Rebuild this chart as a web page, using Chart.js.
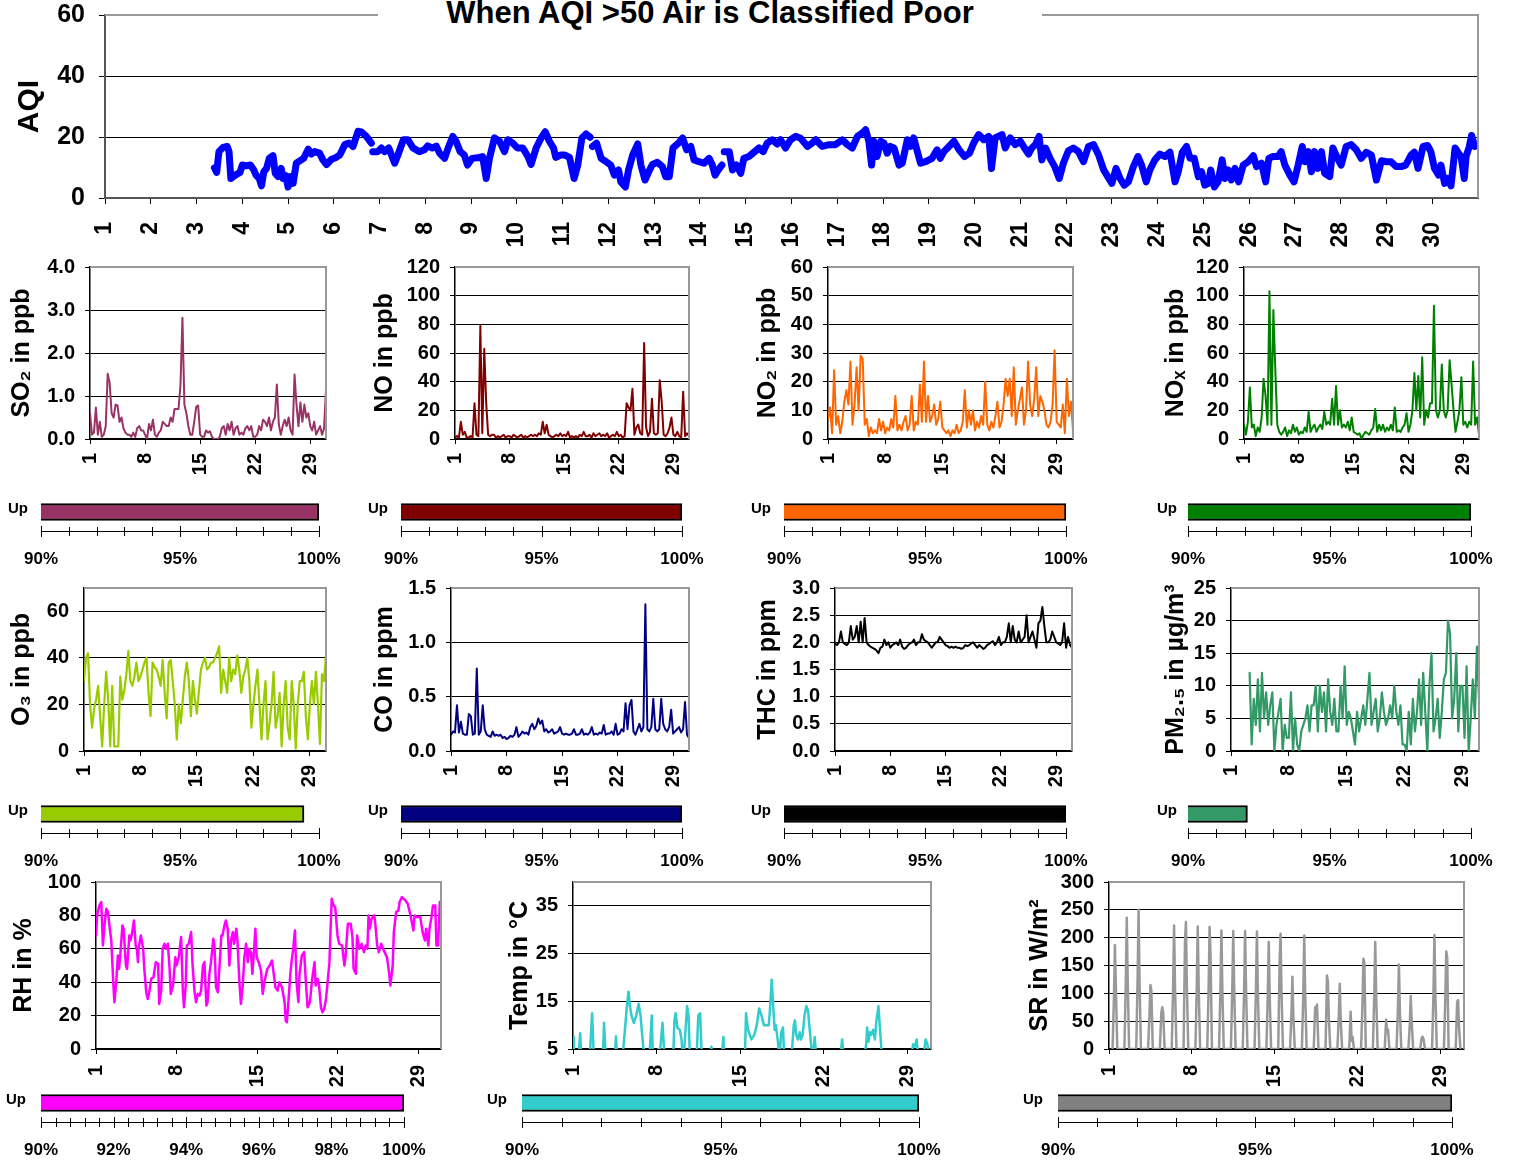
<!DOCTYPE html>
<html>
<head>
<meta charset="utf-8">
<script src="https://cdn.jsdelivr.net/npm/chart.js@4.4.0/dist/chart.umd.min.js"></script>
<style>
  body { margin: 0; background: #fff; width: 1515px; height: 1160px; position: relative; overflow: hidden; }
  canvas { position: absolute; }
  #title { position: absolute; left: 378px; width: 664px; top: -3px; text-align: center;
           font: bold 31px "Liberation Sans", Arial, sans-serif; line-height: 32px; color: #000; }
</style>
</head>
<body>
<div id="title">When AQI &gt;50 Air is Classified Poor</div>
<script>
// ---- tick labels ----
const dayTicks = [1, 8, 15, 22, 29];
const aqiDayTicks = [1,2,3,4,5,6,7,8,9,10,11,12,13,14,15,16,17,18,19,20,21,22,23,24,25,26,27,28,29,30];
const pctLabels = [90, 95, 100];
const rhPctLabels = [90, 92, 94, 96, 98, 100];

// ---- AQI readings: [day, AQI] ----
const aqiReadings = [
  [3.39,9.9],[3.44,8.4],[3.49,15.2],[3.58,16.6],[3.67,16.9],[3.71,15.2],[3.75,6.4],[3.8,7.0],[3.87,7.7],[3.95,8.4],
  [4.0,10.8],[4.09,10.6],[4.18,10.8],[4.25,9.2],[4.3,7.5],[4.37,6.4],[4.42,4.0],[4.47,8.6],[4.53,9.7],[4.59,13.0],
  [4.67,13.9],[4.72,8.1],[4.78,7.0],[4.85,9.7],[4.89,6.4],[4.95,7.3],[5.0,3.6],[5.05,7.0],[5.11,4.8],[5.18,11.4],
  [5.23,11.9],[5.34,13.0],[5.44,16.0],[5.51,14.4],[5.58,15.2],[5.69,14.7],[5.76,12.5],[5.84,11.0],[5.95,12.7],[6.05,13.3],
  [6.13,14.1],[6.24,17.5],[6.33,18.0],[6.42,16.9],[6.53,21.9],[6.6,21.7],[6.71,20.2],[6.82,18.0],[6.835,null],[6.85,15.2],
  [6.96,15.2],[7.04,16.4],[7.11,15.2],[7.2,16.4],[7.33,11.4],[7.4,14.1],[7.52,19.1],[7.62,19.1],[7.73,16.4],[7.87,15.2],
  [7.98,15.8],[8.05,17.1],[8.15,16.4],[8.24,17.0],[8.31,14.7],[8.42,13.0],[8.51,16.9],[8.6,20.2],[8.67,18.6],[8.76,15.2],
  [8.85,14.1],[8.92,10.8],[9.02,13.0],[9.18,13.3],[9.25,13.6],[9.33,6.4],[9.4,13.0],[9.51,19.7],[9.62,18.6],[9.73,15.2],
  [9.8,19.1],[9.91,18.0],[10.01,16.4],[10.13,16.4],[10.24,13.6],[10.31,11.0],[10.42,16.4],[10.53,19.7],[10.62,21.7],[10.71,18.6],
  [10.8,16.4],[10.85,13.3],[10.96,14.1],[11.04,14.1],[11.15,13.3],[11.25,6.4],[11.33,10.8],[11.42,19.7],[11.51,21.0],[11.6,19.9],
  [11.62,null],[11.65,16.9],[11.74,18.0],[11.84,13.0],[11.95,11.9],[12.05,10.8],[12.13,7.5],[12.22,9.2],[12.27,5.3],[12.37,3.6],
  [12.44,9.2],[12.53,14.1],[12.64,17.7],[12.71,10.8],[12.8,5.9],[12.88,8.6],[12.96,11.0],[13.07,11.7],[13.18,10.3],[13.25,7.0],
  [13.33,7.0],[13.41,16.4],[13.53,18.0],[13.62,19.7],[13.71,15.8],[13.8,16.9],[13.87,12.5],[13.98,11.9],[14.09,11.4],[14.2,13.0],
  [14.27,10.8],[14.33,7.5],[14.4,9.2],[14.48,10.8],[14.5,null],[14.53,15.2],[14.64,15.2],[14.71,9.2],[14.8,10.8],[14.89,8.1],
  [14.96,13.0],[15.07,13.6],[15.18,15.0],[15.29,16.4],[15.38,15.2],[15.47,18.0],[15.58,19.1],[15.69,17.7],[15.76,19.1],[15.87,16.4],
  [15.98,19.1],[16.09,20.2],[16.2,19.6],[16.35,16.9],[16.45,18.0],[16.53,19.1],[16.67,16.9],[16.82,17.5],[16.96,17.5],[17.11,19.1],
  [17.22,17.5],[17.33,16.4],[17.44,20.2],[17.55,21.3],[17.62,22.4],[17.69,18.6],[17.75,10.8],[17.8,18.6],[17.87,13.6],[17.95,18.6],
  [18.02,18.0],[18.09,14.7],[18.16,16.9],[18.24,16.4],[18.35,10.8],[18.42,11.4],[18.53,19.1],[18.6,16.9],[18.67,19.7],[18.75,15.2],
  [18.82,11.4],[18.93,11.9],[19.07,13.0],[19.18,15.8],[19.25,13.0],[19.33,15.2],[19.44,16.9],[19.55,18.6],[19.66,15.8],[19.78,13.6],
  [19.89,14.7],[19.98,18.0],[20.09,20.8],[20.2,19.1],[20.31,20.2],[20.37,9.7],[20.45,19.7],[20.6,20.8],[20.67,16.4],[20.78,19.7],
  [20.89,17.5],[21.0,18.6],[21.07,16.9],[21.18,14.4],[21.25,16.4],[21.33,17.5],[21.41,20.2],[21.47,12.5],[21.55,16.4],[21.65,13.0],
  [21.75,10.3],[21.85,6.4],[21.94,11.4],[22.05,15.5],[22.16,16.4],[22.27,15.2],[22.38,11.9],[22.49,16.9],[22.6,17.5],[22.71,14.1],
  [22.82,9.2],[22.91,7.0],[23.0,4.8],[23.09,9.7],[23.18,6.4],[23.27,4.2],[23.36,5.3],[23.47,10.3],[23.57,13.6],[23.65,10.8],
  [23.75,5.3],[23.83,9.2],[23.94,12.5],[24.05,14.4],[24.16,13.6],[24.27,15.0],[24.38,5.3],[24.45,8.6],[24.54,15.0],[24.63,16.9],
  [24.71,13.0],[24.8,13.0],[24.89,7.0],[24.96,8.6],[25.03,4.2],[25.11,4.8],[25.16,9.2],[25.24,3.6],[25.32,5.3],[25.41,12.5],
  [25.47,6.4],[25.54,9.2],[25.61,5.9],[25.69,9.7],[25.77,5.3],[25.87,10.8],[25.98,11.9],[26.09,13.9],[26.16,10.3],[26.27,11.4],
  [26.36,5.3],[26.43,13.0],[26.52,13.6],[26.63,13.6],[26.7,15.2],[26.78,10.8],[26.89,7.5],[26.98,5.3],[27.07,10.8],[27.16,16.9],
  [27.22,11.9],[27.29,15.2],[27.36,8.6],[27.43,15.2],[27.5,9.7],[27.58,15.2],[27.65,8.1],[27.76,7.0],[27.83,16.4],[27.93,13.0],
  [28.01,10.8],[28.12,16.9],[28.23,17.5],[28.34,15.8],[28.45,13.0],[28.56,15.0],[28.67,14.1],[28.78,5.9],[28.89,12.2],[29.0,11.9],
  [29.1,11.9],[29.21,10.3],[29.32,10.3],[29.42,10.8],[29.54,14.1],[29.61,15.0],[29.69,9.7],[29.8,16.9],[29.9,17.2],[29.97,15.2],
  [30.05,9.7],[30.14,7.5],[30.19,10.8],[30.27,4.8],[30.34,6.4],[30.41,4.0],[30.5,16.4],[30.56,15.0],[30.63,13.6],[30.7,6.4],
  [30.74,13.6],[30.81,16.9],[30.86,20.5],[30.93,16.9]
];

// ---- 6-hourly series, first value at day 1.0 ----
const so2 = [
  0.6,0.1,0.15,0.73, 0.1,0.4,0.05,0.1,  0.3,1.52,1.3,0.6, 0.5,0.8,0.78,0.4,
  0.5,0.25,0.15,0.1, 0.1,0.05,0.15,0.05, 0.25,0.3,0.2,0.2, 0.1,0,0.35,0.2,
  0.45,0.1,0.05,0.15, 0.2,0.4,0.35,0.3, 0.3,0.5,0.4,0.7, 0.7,0.7,1.25,2.82,
  0.8,0.6,0.3,0.1, 0.1,0.4,0.75,0.78,  0.1,0.05,0.05,0.2, 0.15,0.18,0.05,0,
  0,0,0.05,0.25, 0.3,0.1,0.35,0.2,     0.4,0.1,0.25,0.3, 0.1,0.15,0.1,0.25,
  0.3,0.2,0.3,0.05, 0.05,0.1,0.3,0.2,  0.45,0.4,0.3,0.5, 0.2,0.4,0.5,1.27,
  0.35,0.1,0.3,0.45, 0.3,0.5,0.2,0.1,  1.5,0.8,0.3,0.85, 0.4,0.8,0.5,0.6,
  0.3,0.2,0.4,0.1, 0.2,0.3,0.1,0.25,   1.15
];
const no = [
  1,2,1,12, 3,5,1,1,     2,1,25,3, 2,79,4,63,   25,3,2,3, 3,1,2,1,     2,3,1,2, 2,1,3,2,
  1,2,3,1, 2,1,2,3,      2,3,2,4, 3,12,4,10,    3,2,1,2, 3,2,4,2,      3,2,5,1, 2,1,2,1,
  3,2,5,2, 2,3,1,4,      2,3,4,2, 3,2,4,1,      2,3,2,5, 2,3,1,2,      25,22,20,35, 3,8,10,4,
  3,67,8,2, 5,28,4,3,    4,41,26,3, 2,4,8,15,   3,2,5,2, 1,33,2,4,     2
];
const no2 = [
  7,11,2,24, 5,8,2,6,    13,17,12,27, 5,12,25,10,  29,28,5,7, 1,4,2,3,   2,7,3,6, 2,4,3,7,
  4,15,3,5, 3,6,8,3,     5,15,3,6, 5,19,6,27,      6,15,6,8, 12,5,7,13,  4,3,2,3, 1,3,2,5,
  2,3,6,17, 4,10,5,10,   3,6,4,8, 5,20,5,3,        6,4,8,13, 4,6,12,21,  15,21,8,25, 5,10,14,18,
  5,10,27,12, 8,14,25,8, 15,13,10,5, 4,6,12,31,    6,5,4,12, 2,21,8,13,  3
];
const nox = [
  10,3,12,36, 8,10,2,8,   5,15,42,30, 10,103,10,90,  48,10,5,3, 5,8,2,6,     4,10,5,8, 3,5,4,8,
  5,19,5,8, 10,5,8,10,    7,19,10,12, 10,28,10,37,   10,20,8,10, 8,12,6,15,  5,4,3,4, 0,3,5,4,
  3,6,8,21, 5,10,6,10,    5,8,6,10, 6,22,5,6,        5,8,10,18, 5,10,20,46,  20,44,15,57, 10,20,15,25,
  25,93,20,15, 20,52,20,15, 20,55,38,20, 5,12,20,43, 10,12,8,12, 10,54,10,15, 3
];
const o3 = [
  30,40,42,20, 10,18,22,28,  15,2,20,34, 22,2,28,2,    2,2,32,22, 26,33,43,30,   28,32,38,30, 32,35,38,40,
  25,15,38,36, 35,32,28,39,  25,14,38,39, 30,20,5,20,  12,22,32,38, 30,15,30,22, 16,26,35,38, 40,35,36,38,
  38,40,42,45, 25,35,30,25,  40,30,35,33, 41,35,25,32, 35,40,30,10, 20,28,35,20, 5,20,30,5, 12,20,34,10,
  15,25,2,20, 30,10,5,30,    20,1,20,30, 30,34,15,5,   20,30,20,34, 20,3,33,30,  41
];
const co = [
  0.15,0.18,0.17,0.42, 0.17,0.27,0.16,0.15,  0.15,0.34,0.32,0.15, 0.16,0.76,0.15,0.18,
  0.42,0.2,0.15,0.14, 0.13,0.18,0.14,0.15,   0.14,0.15,0.12,0.13, 0.11,0.12,0.14,0.13,
  0.15,0.22,0.13,0.15, 0.18,0.16,0.17,0.15,  0.22,0.25,0.2,0.23, 0.3,0.25,0.28,0.18,
  0.2,0.17,0.18,0.2, 0.16,0.17,0.18,0.22,    0.16,0.15,0.16,0.15, 0.15,0.16,0.2,0.15,
  0.15,0.16,0.2,0.15, 0.16,0.15,0.17,0.22,   0.15,0.16,0.15,0.17, 0.16,0.24,0.15,0.16,
  0.16,0.18,0.15,0.25, 0.15,0.16,0.2,0.18,   0.44,0.2,0.42,0.47, 0.18,0.15,0.2,0.25,
  0.18,0.22,1.35,0.2, 0.18,0.22,0.48,0.2,    0.18,0.2,0.48,0.25, 0.2,0.18,0.22,0.38,
  0.16,0.18,0.2,0.22, 0.17,0.2,0.45,0.15,    0.12
];
const thc = [
  1.98,1.95,2.0,2.2, 2.0,1.97,1.95,2.0,   2.3,2.05,2.1,2.3, 2.0,2.38,2.0,2.45,
  2.0,1.95,1.92,1.9, 1.88,1.85,1.8,1.9,   1.92,2.05,1.95,2.0, 1.9,1.95,1.97,2.0,
  1.95,2.05,1.92,1.88, 1.9,1.95,1.98,2.0, 2.05,1.95,2.0,2.0, 2.15,2.05,2.02,2.0,
  1.95,1.9,1.95,2.0, 2.0,2.1,2.05,2.0,    1.95,1.93,1.9,1.92, 1.9,1.92,1.9,1.9,
  1.88,1.9,1.95,1.93, 1.95,1.98,2.0,1.95, 1.9,1.95,1.92,1.88, 1.9,1.95,1.97,2.0,
  2.02,1.95,2.0,2.1, 1.95,2.0,2.0,2.1,    2.35,2.0,2.3,2.05, 2.0,2.2,2.0,2.05,
  2.1,2.5,2.0,2.1, 2.2,2.05,1.9,2.35,     2.4,2.65,2.3,2.0, 2.0,2.05,2.2,2.1,
  2.0,1.98,1.95,2.0, 2.35,1.9,2.1,1.95,   1.9
];
const pm25 = [
  null,null,null,null, null,null,null,null,  null,12,1,8, 4,11,3,12,   5,9,4,7, 9,0,4,6,     8,0,4,2, 2,9,0,5,
  1,0,3,4, 5,7,3,7,    7,10,3,10, 6,9,3,11,  6,4,8,3, 3,10,5,13,    4,6,5,3, 1,6,3,5,
  7,4,8,12, 4,6,8,3,   5,9,6,4, 5,7,5,10,    6,4,7,1, 1,0,6,1,      8,3,6,11, 4,12,6,0,
  10,15,3,5, 8,2,6,11, 12,20,18,5, 8,15,3,10, 10,2,13,0, 5,11,5,16,  8
];

// ---- RH and temperature readings: [day, value] ----
const rhReadings = [
  [1.0,68],[1.1,80],[1.3,86],[1.46,88],[1.6,62],[1.75,75],[1.9,84],[2.04,82],[2.2,72],[2.33,65],[2.5,40],[2.6,28],
  [2.76,40],[2.9,56],[3.0,48],[3.1,55],[3.3,74],[3.4,72],[3.6,50],[3.7,48],[3.9,68],[4.0,65],[4.15,70],[4.3,77],
  [4.45,62],[4.55,60],[4.65,52],[4.7,60],[4.9,68],[5.1,60],[5.2,48],[5.37,34],[5.5,30],[5.66,35],[5.8,42],[6.0,43],
  [6.2,52],[6.4,51],[6.5,27],[6.67,35],[6.8,60],[6.96,63],[7.1,60],[7.25,63],[7.4,48],[7.5,33],[7.7,38],[7.9,55],
  [8.0,50],[8.2,55],[8.4,67],[8.55,35],[8.65,25],[8.8,38],[8.9,62],[9.07,63],[9.27,70],[9.4,50],[9.56,35],[9.7,28],
  [9.85,33],[10.0,32],[10.14,35],[10.3,50],[10.43,52],[10.6,26],[10.7,28],[10.86,45],[11.0,52],[11.2,66],[11.3,62],[11.44,37],
  [11.6,34],[11.7,45],[11.9,68],[12.0,68],[12.17,74],[12.3,77],[12.45,72],[12.6,50],[12.74,65],[12.9,70],[13.0,63],[13.2,72],
  [13.3,65],[13.47,40],[13.6,27],[13.76,38],[13.9,55],[14.05,63],[14.2,52],[14.3,60],[14.47,58],[14.6,45],[14.77,62],[14.86,72],
  [14.97,55],[15.15,52],[15.35,47],[15.5,33],[15.64,40],[15.8,45],[15.9,48],[16.1,50],[16.3,53],[16.4,48],[16.6,37],[16.8,35],
  [16.94,40],[17.17,37],[17.4,28],[17.5,17],[17.6,16],[17.75,30],[17.9,45],[18.0,52],[18.15,60],[18.3,71],[18.44,40],[18.6,28],
  [18.7,45],[18.9,56],[19.1,58],[19.25,40],[19.4,25],[19.6,28],[19.8,42],[20.0,52],[20.1,38],[20.27,42],[20.4,38],[20.56,25],
  [20.7,22],[20.84,24],[21.0,30],[21.1,37],[21.3,52],[21.4,72],[21.5,90],[21.65,86],[21.8,85],[22.0,68],[22.15,63],[22.4,62],
  [22.6,50],[22.7,55],[22.9,75],[23.15,75],[23.3,67],[23.4,48],[23.6,45],[23.7,68],[23.9,60],[24.1,63],[24.3,58],[24.45,62],
  [24.6,60],[24.7,80],[24.8,72],[24.96,78],[25.2,80],[25.3,74],[25.45,62],[25.6,58],[25.8,63],[25.96,60],[26.1,58],[26.3,55],
  [26.5,45],[26.6,38],[26.8,50],[26.9,70],[27.1,82],[27.3,83],[27.4,88],[27.6,91],[27.9,89],[28.1,87],[28.35,80],[28.6,71],
  [28.7,80],[28.9,79],[29.2,79],[29.4,70],[29.6,65],[29.7,72],[29.9,62],[30.0,72],[30.2,80],[30.3,86],[30.5,86],[30.6,62],
  [30.75,62],[30.9,88],[31.0,80]
];
const tempReadings = [
  [1.0,7.5],[1.08,4],[1.45,3],[1.6,8.3],[1.7,3],[2.4,3],[2.6,12.5],[2.75,3],[3.5,3],[3.6,10.5],[3.75,3],[4.5,3],
  [4.6,7.6],[4.7,3],[5.15,3],[5.35,9],[5.5,13.5],[5.65,17],[5.77,14],[5.9,12],[6.1,10.5],[6.3,12],[6.5,14.5],[6.66,12],
  [6.9,5],[6.94,3],[7.4,3],[7.6,12],[7.7,3],[8.1,4],[8.17,5],[8.28,4],[8.5,10.5],[8.67,3],[9.4,3],[9.5,11],
  [9.6,12.5],[9.75,9.5],[9.95,9],[10.1,7],[10.17,4],[10.3,4],[10.56,14],[10.68,12],[10.8,3],[11.35,3],[11.5,12],[11.65,12.5],
  [11.8,3],[12.46,3],[12.6,5.5],[12.7,3],[13.45,3],[13.6,7.5],[13.7,3],[15.4,3],[15.5,12.5],[15.67,9],[15.95,7],[16.2,8],
  [16.4,10],[16.6,13.5],[16.8,12],[17.0,10],[17.4,10],[17.5,13],[17.65,19.5],[17.8,13],[17.9,9],[18.0,10],[18.2,6],[18.3,3],
  [18.45,8.5],[18.6,9.5],[18.7,3],[19.3,3],[19.5,10],[19.6,11],[19.7,8],[19.85,7],[20.0,8.5],[20.1,7],[20.25,8],[20.4,12],
  [20.55,14],[20.7,13],[20.8,10],[20.95,6],[21.1,3],[21.25,7.5],[21.4,3],[23.4,3],[23.55,7],[23.7,3],[25.4,3],[25.57,6],
  [25.65,9.5],[25.76,6.5],[25.9,8.5],[26.0,8],[26.15,9],[26.3,7],[26.43,11],[26.6,14],[26.7,10],[26.9,3],[29.35,3],[29.5,6],
  [29.65,5.5],[29.8,7],[29.9,4],[30.4,4],[30.55,7],[30.7,6],[30.8,4]
];

// ---- solar radiation: five readings around noon for each day ----
const srDayFractions = [0.3, 0.42, 0.5, 0.58, 0.7];
const srDaily = [
  [0,95,187,112,0],[0,120,236,125,0],[0,130,250,120,0],[0,60,115,105,0],[0,65,75,65,0],
  [0,115,222,110,0],[0,190,228,115,0],[0,115,220,110,0],[0,110,219,170,0],[0,110,213,105,0],
  [0,110,212,108,0],[0,108,212,110,0],[0,110,211,105,0],[0,100,192,95,0],[0,160,207,100,0],
  [0,65,130,60,0],[0,100,204,100,0],[0,75,70,80,0],[0,132,120,55,0],[0,60,117,55,0],
  [0,67,15,22,0],[0,80,162,155,0],[0,100,192,95,0],[0,53,30,35,0],[0,75,152,70,0],
  [0,45,95,50,0],[0,20,22,18,0],[0,100,205,100,0],[0,90,175,165,0],[0,85,88,40,0]
];

// ---- data capture ("Up") in percent ----
const upPct = { so2: 100, no: 100, no2: 100, nox: 100, o3: 99.46, co: 100, thc: 100, pm25: 92.1, rh: 100, temp: 100, sr: 100 };

// ---------------------------------------------------------------
const series = (vals, start, step) => vals.map((v, i) => ({ x: start + i * step, y: v }));
const pairs = list => list.map(([x, y]) => ({ x, y }));
const srPoints = () => {
  const pts = [];
  srDaily.forEach((row, d) => row.forEach((v, k) => pts.push({ x: d + 1 + srDayFractions[k], y: v })));
  return pts;
};
const range = (a, b, s) => { const r = []; for (let v = a; v <= b + 1e-9; v += s) r.push(Math.round(v * 100) / 100); return r; };

const FONT = '"Liberation Sans", Arial, Helvetica, sans-serif';
Chart.defaults.font.family = FONT;
Chart.defaults.font.weight = 'bold';
Chart.defaults.color = '#000';
Chart.defaults.animation = false;
Chart.defaults.responsive = false;
Chart.defaults.events = [];
Chart.defaults.plugins.legend.display = false;
Chart.defaults.plugins.tooltip.enabled = false;

// gray frame on top/right of the plot area
const framePlugin = {
  id: 'frame',
  afterDraw(chart, args, opts) {
    if (!opts.show) return;
    const { ctx, chartArea: a } = chart;
    ctx.save();
    ctx.strokeStyle = '#999';
    ctx.lineWidth = 2;
    ctx.beginPath();
    if (opts.gap) {
      ctx.moveTo(a.left, a.top); ctx.lineTo(opts.gap[0], a.top);
      ctx.moveTo(opts.gap[1], a.top);
    } else {
      ctx.moveTo(a.left, a.top);
    }
    ctx.lineTo(a.right, a.top);
    ctx.lineTo(a.right, a.bottom);
    ctx.stroke();
    ctx.restore();
  }
};

// tick marks crossing the percent axis under the bars
const crossTicks = {
  id: 'crossTicks',
  afterDraw(chart, args, opts) {
    if (!opts.show) return;
    const sc = chart.scales.x, ctx = chart.ctx, y = sc.top;
    const labels = opts.labels || [];
    ctx.save();
    ctx.strokeStyle = '#000';
    ctx.lineWidth = 1;
    sc.ticks.forEach(t => {
      const px = Math.round(sc.getPixelForValue(t.value)) + 0.5;
      const big = labels.some(l => Math.abs(l - t.value) < 1e-6);
      ctx.beginPath();
      ctx.moveTo(px, y - (big ? 5 : 4));
      ctx.lineTo(px, y + (big ? 6 : 5));
      ctx.stroke();
    });
    ctx.restore();
  }
};
Chart.register(framePlugin, crossTicks);

function addCanvas(box) {
  const c = document.createElement('canvas');
  c.width = box.w; c.height = box.h;
  c.style.left = box.l + 'px'; c.style.top = box.t + 'px';
  c.style.width = box.w + 'px'; c.style.height = box.h + 'px';
  document.body.appendChild(c);
  return c;
}

// o.box = { l, bottom }, o.area = plot area in page pixels
function lineChart(o) {
  const a = o.area;
  const yFont = o.yFont || 20, yPad = o.yPad || 10, tick = o.tick || 5;
  const padTop = Math.ceil(yFont * 0.6 + yPad) + 2;
  const b = { l: o.box.l, t: a.t - padTop, w: a.r + 30 - o.box.l };
  b.h = o.box.bottom - b.t;
  const titleSize = o.titleSize || 25;
  return new Chart(addCanvas(b), {
    type: 'line',
    data: { datasets: [{
      data: o.points, borderColor: o.color, borderWidth: o.lw, pointRadius: 0, tension: 0,
      spanGaps: false, borderJoinStyle: 'round', borderCapStyle: 'round'
    }] },
    options: {
      layout: { autoPadding: false, padding: { top: padTop, right: b.l + b.w - a.r, left: 0, bottom: 0 } },
      scales: {
        x: {
          type: 'linear', min: 1, max: 31,
          afterBuildTicks: s => { s.ticks = o.xTicks.map(v => ({ value: v })); },
          afterFit: s => { s.height = b.t + b.h - a.b; },
          grid: { drawOnChartArea: false, tickLength: tick, color: '#000' },
          border: { color: o.axisColor || '#000', width: o.axisWidth || 1.5 },
          ticks: { autoSkip: false, minRotation: 90, maxRotation: 90, padding: o.xPad || 9, font: { size: o.xFont || 20 } }
        },
        y: {
          min: o.yMin, max: o.yMax,
          afterBuildTicks: s => { s.ticks = o.yTicks.map(v => ({ value: v })); },
          afterFit: s => { s.width = a.l - b.l; },
          grid: {
            color: c => (c.tick && c.tick.value === o.yMax) ? 'rgba(0,0,0,0)' : '#000',
            tickColor: '#000', tickLength: tick, lineWidth: 1
          },
          border: { color: o.axisColor || '#000', width: o.axisWidth || 1.5 },
          ticks: { autoSkip: false, padding: yPad, font: { size: yFont },
                   callback: v => o.dec ? Number(v).toFixed(o.dec) : v },
          title: { display: true, text: o.title, font: { size: titleSize },
                   padding: { top: o.titleX - b.l - titleSize * 0.6, bottom: 0 } }
        }
      },
      plugins: { frame: { show: true, gap: o.gap } }
    }
  });
}

// o.box = { l, bottom }, o.area = { l, r, t (top of bar band), b (axis line) }
function upBar(o) {
  const a = o.area;
  const upPad = o.upPad || 13;
  const padTop = Math.ceil(15 * 0.6 + upPad) + 2;
  const b = { l: o.box.l, t: a.t - padTop, w: a.r + 50 - o.box.l };
  b.h = o.box.bottom - b.t;
  return new Chart(addCanvas(b), {
    type: 'bar',
    data: { labels: ['Up'], datasets: [{
      data: [o.value], backgroundColor: o.color, borderColor: '#000', borderWidth: 2,
      borderSkipped: false, barThickness: 17
    }] },
    options: {
      indexAxis: 'y',
      layout: { autoPadding: false, padding: { top: padTop, right: b.l + b.w - a.r, left: 0, bottom: 0 } },
      scales: {
        x: {
          min: 90, max: 100,
          afterBuildTicks: s => { s.ticks = range(90, 100, o.step || 1).map(v => ({ value: v })); },
          afterFit: s => { s.height = b.t + b.h - a.b; },
          grid: { display: false, drawTicks: false },
          border: { display: true, color: '#000', width: 1 },
          ticks: { autoSkip: false, maxRotation: 0, padding: 18, font: { size: 17 },
                   callback: v => (o.labels.some(l => Math.abs(l - v) < 1e-6) ? Math.round(v) + '%' : '') }
        },
        y: {
          afterFit: s => { s.width = a.l - b.l; },
          grid: { display: false, drawTicks: false },
          border: { display: false },
          ticks: { padding: upPad, font: { size: 15 }, labelOffset: -3 }
        }
      },
      plugins: { crossTicks: { show: true, labels: o.labels } }
    }
  });
}

// ---- top AQI chart ----
lineChart({
  box: { l: 0, bottom: 262 }, area: { l: 105, t: 15, r: 1478, b: 198 },
  points: pairs(aqiReadings), color: '#0000FF', lw: 7,
  yMin: 0, yMax: 60, yTicks: [0, 20, 40, 60], xTicks: aqiDayTicks,
  title: 'AQI', titleX: 30, titleSize: 30, xFont: 23, yFont: 25, tick: 6, xPad: 18, yPad: 14,
  axisColor: '#555', axisWidth: 2, gap: [378, 1042]
});

// ---- row 1 ----
lineChart({ box: { l: 0, bottom: 490 }, area: { l: 90, t: 267, r: 326, b: 439 },
  points: series(so2, 1, 0.25), color: '#993366', lw: 2, yMin: 0, yMax: 4, yTicks: [0, 1, 2, 3, 4], dec: 1,
  xTicks: dayTicks, title: 'SO\u2082 in ppb', titleX: 22 });
lineChart({ box: { l: 360, bottom: 490 }, area: { l: 455, t: 267, r: 689, b: 439 },
  points: series(no, 1, 0.25), color: '#800000', lw: 2, yMin: 0, yMax: 120, yTicks: [0, 20, 40, 60, 80, 100, 120],
  xTicks: dayTicks, title: 'NO in ppb', titleX: 385 });
lineChart({ box: { l: 740, bottom: 490 }, area: { l: 828, t: 267, r: 1073, b: 439 },
  points: series(no2, 1, 0.25), color: '#FF6600', lw: 2, yMin: 0, yMax: 60, yTicks: [0, 10, 20, 30, 40, 50, 60],
  xTicks: dayTicks, title: 'NO\u2082 in ppb', titleX: 768 });
lineChart({ box: { l: 1150, bottom: 490 }, area: { l: 1244, t: 267, r: 1479, b: 439 },
  points: series(nox, 1, 0.25), color: '#008000', lw: 2, yMin: 0, yMax: 120, yTicks: [0, 20, 40, 60, 80, 100, 120],
  xTicks: dayTicks, title: 'NO\u2093 in ppb', titleX: 1176 });

upBar({ box: { l: 0, bottom: 575 }, area: { l: 41, t: 493, r: 319, b: 531 }, value: upPct.so2, color: '#993366', labels: pctLabels });
upBar({ box: { l: 355, bottom: 575 }, area: { l: 401, t: 493, r: 682, b: 531 }, value: upPct.no, color: '#800000', labels: pctLabels });
upBar({ box: { l: 740, bottom: 575 }, area: { l: 784, t: 493, r: 1066, b: 531 }, value: upPct.no2, color: '#FF6600', labels: pctLabels });
upBar({ box: { l: 1145, bottom: 575 }, area: { l: 1188, t: 493, r: 1471, b: 531 }, value: upPct.nox, color: '#008000', labels: pctLabels, upPad: 11 });

// ---- row 2 ----
lineChart({ box: { l: 0, bottom: 803 }, area: { l: 84, t: 588, r: 326, b: 751 },
  points: series(o3, 1, 0.25), color: '#99CC00', lw: 2.2, yMin: 0, yMax: 70, yTicks: [0, 20, 40, 60],
  xTicks: dayTicks, title: 'O\u2083 in ppb', titleX: 22 });
lineChart({ box: { l: 360, bottom: 803 }, area: { l: 451, t: 588, r: 689, b: 751 },
  points: series(co, 1, 0.25), color: '#000080', lw: 2, yMin: 0, yMax: 1.5, yTicks: [0, 0.5, 1, 1.5], dec: 1,
  xTicks: dayTicks, title: 'CO in ppm', titleX: 385 });
lineChart({ box: { l: 740, bottom: 803 }, area: { l: 835, t: 588, r: 1072, b: 751 },
  points: series(thc, 1, 0.25), color: '#000000', lw: 2, yMin: 0, yMax: 3, yTicks: [0, 0.5, 1, 1.5, 2, 2.5, 3], dec: 1,
  xTicks: dayTicks, title: 'THC in ppm', titleX: 768 });
lineChart({ box: { l: 1150, bottom: 803 }, area: { l: 1231, t: 588, r: 1479, b: 751 },
  points: series(pm25, 1, 0.25), color: '#339966', lw: 2.2, yMin: 0, yMax: 25, yTicks: [0, 5, 10, 15, 20, 25],
  xTicks: dayTicks, title: 'PM\u2082.\u2085 in \u00b5g/m\u00b3', titleX: 1176 });

upBar({ box: { l: 0, bottom: 875 }, area: { l: 41, t: 795, r: 319, b: 833 }, value: upPct.o3, color: '#99CC00', labels: pctLabels });
upBar({ box: { l: 355, bottom: 875 }, area: { l: 401, t: 795, r: 682, b: 833 }, value: upPct.co, color: '#000080', labels: pctLabels });
upBar({ box: { l: 740, bottom: 875 }, area: { l: 784, t: 795, r: 1066, b: 833 }, value: upPct.thc, color: '#000000', labels: pctLabels });
upBar({ box: { l: 1145, bottom: 875 }, area: { l: 1188, t: 795, r: 1471, b: 833 }, value: upPct.pm25, color: '#339966', labels: pctLabels, upPad: 11 });

// ---- row 3 ----
lineChart({ box: { l: 0, bottom: 1089 }, area: { l: 96, t: 882, r: 441, b: 1049 },
  points: pairs(rhReadings), color: '#FF00FF', lw: 2.5, yMin: 0, yMax: 100, yTicks: [0, 20, 40, 60, 80, 100],
  xTicks: dayTicks, title: 'RH in %', titleX: 24, xPad: 11 });
lineChart({ box: { l: 490, bottom: 1089 }, area: { l: 573, t: 882, r: 931, b: 1049 },
  points: pairs(tempReadings), color: '#33CCCC', lw: 2.5, yMin: 5, yMax: 40, yTicks: [5, 15, 25, 35],
  xTicks: dayTicks, title: 'Temp in \u00b0C', titleX: 520, xPad: 11 });
lineChart({ box: { l: 1010, bottom: 1089 }, area: { l: 1109, t: 882, r: 1464, b: 1049 },
  points: srPoints(), color: '#999999', lw: 2.5, yMin: 0, yMax: 300, yTicks: [0, 50, 100, 150, 200, 250, 300],
  xTicks: dayTicks, title: 'SR in W/m\u00b2', titleX: 1040, xPad: 11 });

upBar({ box: { l: 0, bottom: 1160 }, area: { l: 41, t: 1084, r: 404, b: 1122 }, value: upPct.rh, color: '#FF00FF', labels: rhPctLabels, step: 0.4, upPad: 15 });
upBar({ box: { l: 475, bottom: 1160 }, area: { l: 522, t: 1084, r: 919, b: 1122 }, value: upPct.temp, color: '#33CCCC', labels: pctLabels, upPad: 15 });
upBar({ box: { l: 1000, bottom: 1160 }, area: { l: 1058, t: 1084, r: 1452, b: 1122 }, value: upPct.sr, color: '#808080', labels: pctLabels, upPad: 15 });
</script>
</body>
</html>
